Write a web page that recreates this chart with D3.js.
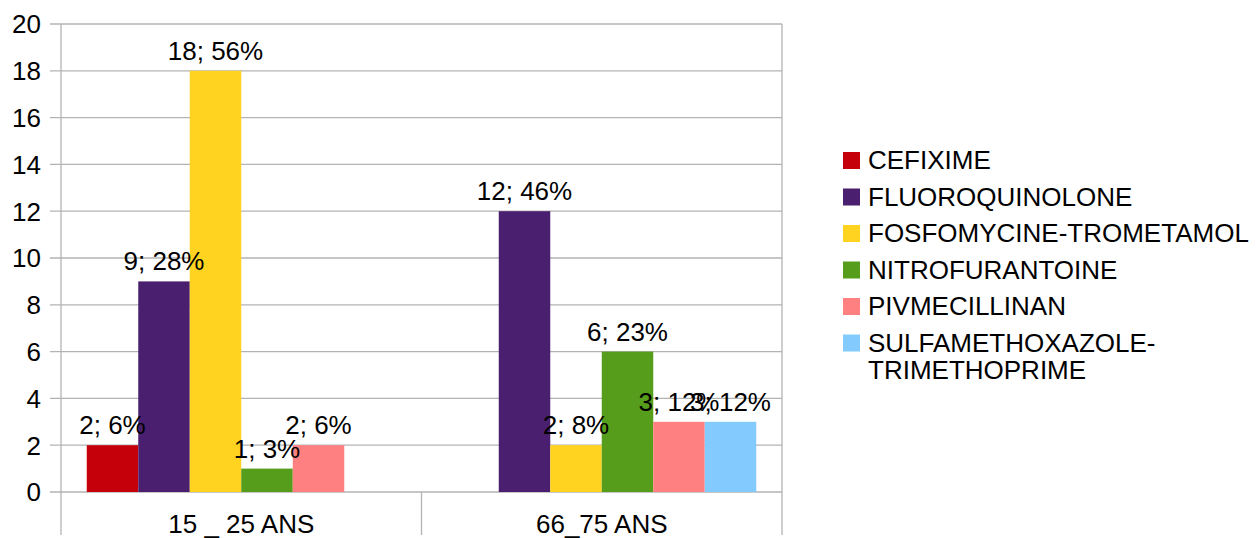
<!DOCTYPE html>
<html>
<head>
<meta charset="utf-8">
<script src="https://cdn.jsdelivr.net/npm/d3@7"></script>
<style>
  body { margin: 0; background: #fff; }
  svg { display: block; font-family: "Liberation Sans", Arial, sans-serif; }
</style>
</head>
<body>
<svg id="chart" width="1260" height="538"></svg>
<script>
// data
var categories = ["15 _ 25 ANS", "66_75 ANS"];
var seriesNames = ["CEFIXIME", "FLUOROQUINOLONE", "FOSFOMYCINE-TROMETAMOL", "NITROFURANTOINE", "PIVMECILLINAN", "SULFAMETHOXAZOLE-TRIMETHOPRIME"];
var seriesColors = ["#c5000b", "#4b1f6f", "#ffd320", "#579d1c", "#ff8080", "#83caff"];
// values per series, one per category (null = no bar)
var cefixime = [2, null];
var fluoroquinolone = [9, 12];
var fosfomycine = [18, 2];
var nitrofurantoine = [1, 6];
var pivmecillinan = [2, 3];
var sulfamethoxazole = [null, 3];
// percent shown in the labels
var cefiximePct = ["6%", null];
var fluoroquinolonePct = ["28%", "46%"];
var fosfomycinePct = ["56%", "8%"];
var nitrofurantoinePct = ["3%", "23%"];
var pivmecillinanPct = ["6%", "12%"];
var sulfamethoxazolePct = [null, "12%"];
var yTicks = [0, 2, 4, 6, 8, 10, 12, 14, 16, 18, 20];

var seriesValues = [cefixime, fluoroquinolone, fosfomycine, nitrofurantoine, pivmecillinan, sulfamethoxazole];
var seriesPct = [cefiximePct, fluoroquinolonePct, fosfomycinePct, nitrofurantoinePct, pivmecillinanPct, sulfamethoxazolePct];

var svg = d3.select("#chart"),
    margin = {top: 24, right: 478, bottom: 46, left: 61},
    width = +svg.attr("width") - margin.left - margin.right,
    height = +svg.attr("height") - margin.top - margin.bottom,
    g = svg.append("g").attr("transform", "translate(" + margin.left + "," + margin.top + ")");

var fontSize = 26;
var gridColor = "#b3b3b3";

var x0 = d3.scaleBand().domain(categories).range([0, width]).padding(0);
var x1 = d3.scaleBand().domain(d3.range(seriesNames.length))
    .range([0, x0.bandwidth()]).paddingInner(0).paddingOuter(0.5);
var y = d3.scaleLinear().domain([0, 20]).range([height, 0]);

// gridlines + y ticks
g.append("g").selectAll("line")
  .data(yTicks)
  .enter().append("line")
    .attr("x1", -11)
    .attr("x2", width)
    .attr("y1", function(d) { return y(d); })
    .attr("y2", function(d) { return y(d); })
    .attr("stroke", gridColor)
    .attr("stroke-width", 1.3);

g.append("g").selectAll("text")
  .data(yTicks)
  .enter().append("text")
    .attr("x", -20)
    .attr("y", function(d) { return y(d); })
    .attr("dy", "0.36em")
    .attr("text-anchor", "end")
    .attr("font-size", fontSize)
    .attr("fill", "#000")
    .text(function(d) { return d; });

// vertical lines: axis, category separator, right border
var vLines = [0].concat(categories.map(function(c) { return x0(c) + x0.bandwidth(); }));
g.append("g").selectAll("line")
  .data(vLines)
  .enter().append("line")
    .attr("x1", function(d) { return d; })
    .attr("x2", function(d) { return d; })
    .attr("y1", function(d, i) { return i == 0 || i == vLines.length - 1 ? 0 : height; })
    .attr("y2", height + 43)
    .attr("stroke", gridColor)
    .attr("stroke-width", 1.3);

// bars
var groups = g.append("g").selectAll("g")
  .data(categories)
  .enter().append("g")
    .attr("transform", function(c) { return "translate(" + x0(c) + ",0)"; });

function barData(c, ci) {
  return seriesNames.map(function(s, si) { return {si: si, v: seriesValues[si][ci], p: seriesPct[si][ci]}; })
    .filter(function(d) { return d.v != null; });
}

groups.selectAll("rect")
  .data(barData)
  .enter().append("rect")
    .attr("x", function(d) { return x1(d.si); })
    .attr("y", function(d) { return y(d.v); })
    .attr("width", x1.bandwidth())
    .attr("height", function(d) { return y(0) - y(d.v); })
    .attr("fill", function(d) { return seriesColors[d.si]; });

groups.selectAll("text")
  .data(barData)
  .enter().append("text")
    .attr("x", function(d) { return x1(d.si) + x1.bandwidth() / 2; })
    .attr("y", function(d) { return y(d.v) - 11; })
    .attr("text-anchor", "middle")
    .attr("font-size", fontSize)
    .attr("fill", "#000")
    .text(function(d) { return d.v + "; " + d.p; });

// category labels
g.append("g").selectAll("text")
  .data(categories)
  .enter().append("text")
    .attr("x", function(c) { return x0(c) + x0.bandwidth() / 2; })
    .attr("y", height + 41)
    .attr("text-anchor", "middle")
    .attr("font-size", fontSize)
    .attr("fill", "#000")
    .text(function(c) { return c; });

// legend
var legend = svg.append("g")
    .attr("transform", "translate(843,160)")
  .selectAll("g")
  .data(seriesNames)
  .enter().append("g")
    .attr("transform", function(d, i) { return "translate(0," + i * 36.5 + ")"; });

legend.append("rect")
    .attr("x", 0)
    .attr("y", -8)
    .attr("width", 17)
    .attr("height", 17)
    .attr("fill", function(d, i) { return seriesColors[i]; });

legend.append("text")
    .attr("x", 25)
    .attr("font-size", fontSize)
    .attr("fill", "#000")
  .selectAll("tspan")
  .data(function(d) { return d.length > 24 ? [d.slice(0, d.indexOf("-") + 1), d.slice(d.indexOf("-") + 1)] : [d]; })
  .enter().append("tspan")
    .attr("x", 25)
    .attr("y", function(d, i) { return i * 27; })
    .attr("dy", "0.36em")
    .text(function(d) { return d; });
</script>
</body>
</html>
